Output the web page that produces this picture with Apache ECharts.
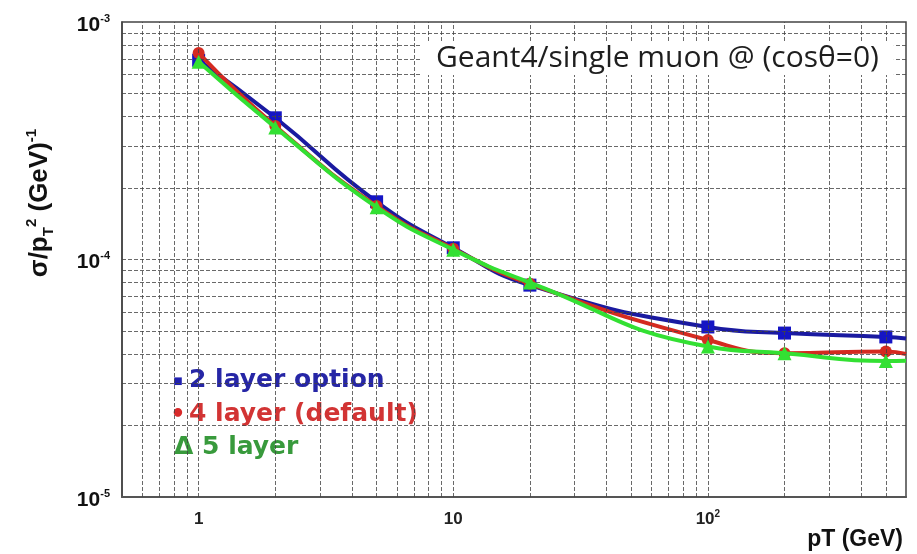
<!DOCTYPE html>
<html>
<head>
<meta charset="utf-8">
<title>sigma/pT2 vs pT</title>
<script src="https://cdn.jsdelivr.net/npm/echarts@6/dist/echarts.min.js"></script>
<style>
  html, body { margin: 0; padding: 0; background: #fff; }
  #chart { width: 917px; height: 554px; }
</style>
</head>
<body>
<div id="chart"></div>
<script>
  // measured points (pT in GeV)
  var pT = [1, 2, 5, 10, 20, 100, 200, 500]
  var layer2 = [6.9e-4, 3.95e-4, 1.75e-4, 1.12e-4, 7.8e-5, 5.2e-5, 4.9e-5, 4.72e-5]
  var layer4 = [7.4e-4, 3.65e-4, 1.68e-4, 1.11e-4, 7.9e-5, 4.58e-5, 4.03e-5, 4.1e-5]
  var layer5 = [6.8e-4, 3.6e-4, 1.66e-4, 1.10e-4, 8.0e-5, 4.3e-5, 4.03e-5, 3.74e-5]

  // where the fitted curves leave the frame on the right
  var pTEnd = 600
  var layer2End = 4.65e-5
  var layer4End = 4.0e-5
  var layer5End = 3.75e-5

  var xTickValues = [1, 10, 100]
  var xTickLabels = ['1', '10', '10{sup|2}']
  var yTickValues = [1e-5, 1e-4, 1e-3]
  var yTickLabels = ['10{sup|-5}', '10{sup|-4}', '10{sup|-3}']

  var xMin = 0.5, xMax = 600, yMin = 1e-5, yMax = 1e-3

  // log grid: 1..9 times every decade
  function logGrid(lo, hi) {
    var out = []
    for (var d = -6; d <= 3; d++) {
      for (var k = 1; k <= 9; k++) {
        var v = k * Math.pow(10, d)
        if (v > lo * 1.0001 && v < hi * 0.9999) out.push(v)
      }
    }
    return out
  }
  var xGrid = logGrid(xMin, xMax)
  var yGrid = logGrid(yMin, yMax)

  function pickLabel(v, values, labels) {
    for (var i = 0; i < values.length; i++) {
      if (Math.abs(Math.log10(v) - Math.log10(values[i])) < 0.01) return labels[i]
    }
    return ''
  }

  function curve(vals, endVal) {
    var d = pT.map(function (x, i) { return [x, vals[i]] })
    d.push({ value: [pTEnd, endVal], symbol: 'none' })
    return d
  }

  var gridLine = { color: '#444', width: 1, type: [4, 2], opacity: 0.8 }

  function gridSeries(lines) {
    return {
      type: 'line',
      data: [],
      z: 1,
      silent: true,
      markLine: {
        silent: true,
        animation: false,
        symbol: ['none', 'none'],
        label: { show: false },
        lineStyle: gridLine,
        emphasis: { disabled: true },
        data: lines
      }
    }
  }
  var vLines = xGrid.map(function (v) { return [{ coord: [v, yMin] }, { coord: [v, yMax] }] })
  var hLines = yGrid.map(function (v) { return [{ coord: [xMin, v] }, { coord: [xMax, v] }] })

  var legendFont = 'bold 25px "DejaVu Sans"'

  var chart = echarts.init(document.getElementById('chart'))
  chart.setOption({
    animation: false,
    backgroundColor: '#fff',
    title: {
      text: 'Geant4/single muon @ (cosθ=0)',
      left: 421,
      top: 41,
      backgroundColor: '#fff',
      padding: [2, 15],
      textStyle: {
        fontFamily: 'Open Sans',
        fontSize: 30,
        fontWeight: 'normal',
        color: '#1e1e1e'
      }
    },
    grid: {
      left: 122, top: 22, right: 11, bottom: 57,
      show: true,
      borderColor: '#444',
      borderWidth: 1.5
    },
    xAxis: {
      type: 'log',
      logBase: 10,
      min: xMin,
      max: xMax,
      axisLine: { lineStyle: { color: '#555', width: 2 } },
      axisTick: { show: false },
      splitLine: { show: false },
      axisLabel: {
        margin: 12,
        color: '#222',
        fontFamily: 'Liberation Sans',
        fontWeight: 'bold',
        fontSize: 17,
        lineHeight: 20,
        formatter: function (v) { return pickLabel(v, xTickValues, xTickLabels) },
        rich: {
          sup: { fontSize: 10, fontWeight: 'bold', color: '#222', verticalAlign: 'top', lineHeight: 10 }
        }
      }
    },
    yAxis: {
      type: 'log',
      logBase: 10,
      min: yMin,
      max: yMax,
      axisLine: { lineStyle: { color: '#444', width: 1.5 } },
      axisTick: { show: false },
      splitLine: { show: false },
      axisLabel: {
        margin: 12,
        color: '#111',
        fontFamily: 'Liberation Sans',
        fontWeight: 'bold',
        fontSize: 21,
        lineHeight: 24,
        padding: [6, 0, 0, 0],
        formatter: function (v) { return pickLabel(v, yTickValues, yTickLabels) },
        rich: {
          sup: { fontSize: 11, fontWeight: 'bold', color: '#111', verticalAlign: 'top', lineHeight: 11 }
        }
      }
    },
    graphic: [
      {
        type: 'text', x: 40, y: 203, rotation: Math.PI / 2,
        style: {
          text: 'σ/p{sub|T}{sup|2} (GeV){sup|-1}',
          textAlign: 'center', textVerticalAlign: 'middle',
          fill: '#111',
          font: 'bold 26px "Liberation Sans"',
          rich: {
            sub: { fontSize: 15, fontWeight: 'bold', verticalAlign: 'bottom', lineHeight: 32, fill: '#111' },
            sup: { fontSize: 15, fontWeight: 'bold', verticalAlign: 'top', lineHeight: 32, fill: '#111' }
          }
        }
      },
      {
        type: 'text', x: 903, y: 540,
        style: {
          text: 'pT (GeV)', textAlign: 'right', textVerticalAlign: 'middle',
          fill: '#111', font: 'bold 23px "Liberation Sans"'
        }
      },
      // legend written as text, like the original
      {
        type: 'text', x: 178, y: 381,
        style: { text: '■', textAlign: 'center', textVerticalAlign: 'middle', fill: '#1f1fb0', font: '10px "DejaVu Sans"' }
      },
      {
        type: 'text', x: 189, y: 380,
        style: { text: '2 layer option', textVerticalAlign: 'middle', fill: '#2626a6', font: legendFont }
      },
      {
        type: 'text', x: 178, y: 416,
        style: { text: '•', textAlign: 'center', textVerticalAlign: 'middle', fill: '#d82a2a', font: 'bold 24px "DejaVu Sans"' }
      },
      {
        type: 'text', x: 189, y: 414,
        style: { text: '4 layer (default)', textVerticalAlign: 'middle', fill: '#d23434', font: legendFont }
      },
      {
        type: 'text', x: 174, y: 447,
        style: { text: 'Δ 5 layer', textVerticalAlign: 'middle', fill: '#389a3c', font: legendFont }
      }
    ],
    series: [
      gridSeries(vLines),
      gridSeries(hLines),
      {
        name: '2 layer option',
        type: 'line',
        smooth: true,
        z: 3,
        symbol: 'rect',
        symbolSize: 13,
        lineStyle: { color: '#1a1aa0', width: 4 },
        itemStyle: { color: '#1515c4' },
        data: curve(layer2, layer2End)
      },
      {
        name: '4 layer (default)',
        type: 'line',
        smooth: true,
        z: 4,
        symbol: 'circle',
        symbolSize: 12,
        lineStyle: { color: '#d42a20', width: 4 },
        itemStyle: { color: '#d42a20' },
        data: curve(layer4, layer4End)
      },
      {
        name: '5 layer',
        type: 'line',
        smooth: true,
        z: 5,
        symbol: 'triangle',
        symbolSize: 14,
        lineStyle: { color: '#33e033', width: 4 },
        itemStyle: { color: '#33e033' },
        data: curve(layer5, layer5End)
      }
    ]
  })
</script>
</body>
</html>
